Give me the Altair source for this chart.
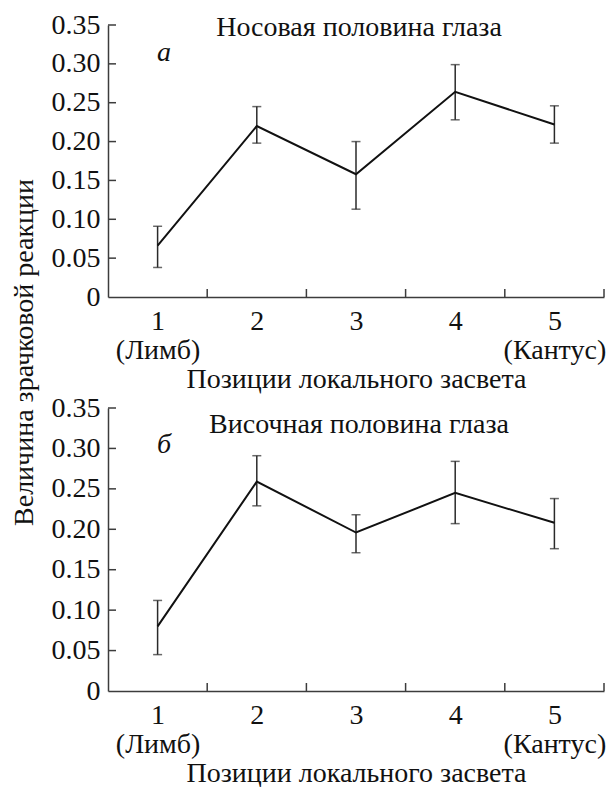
import altair as alt
import pandas as pd

# ---- data ----
positions = [1, 2, 3, 4, 5]

nasal_mean = [0.066, 0.220, 0.158, 0.264, 0.222]
nasal_lo = [0.038, 0.198, 0.113, 0.228, 0.198]
nasal_hi = [0.091, 0.245, 0.200, 0.299, 0.246]

temporal_mean = [0.080, 0.259, 0.196, 0.245, 0.208]
temporal_lo = [0.045, 0.229, 0.171, 0.207, 0.176]
temporal_hi = [0.112, 0.291, 0.218, 0.284, 0.238]

y_ticks = [0, 0.05, 0.10, 0.15, 0.20, 0.25, 0.30, 0.35]
x_band_edges = [1.5, 2.5, 3.5, 4.5, 5.5]

panel_titles = ["Носовая половина глаза", "Височная половина глаза"]
panel_letters = ["а", "б"]
x_title = "Позиции локального засвета"
y_title = "Величина зрачковой реакции"

FONT = "Liberation Serif"
FS = 28
W = 496
INK = "#111111"
AXC = "#3c3c3c"


def panel(mean, lo, hi, title, letter, height, show_ytitle, title_y, letter_y, ytitle_y):
    df = pd.DataFrame({"pos": positions, "mean": mean, "lo": lo, "hi": hi})
    x_enc = alt.X(
        "pos:Q",
        scale=alt.Scale(domain=[0.5, 5.5], nice=False, zero=False),
        axis=alt.Axis(
            values=positions,
            tickSize=0,
            grid=False,
            labelExpr="datum.value == 1 ? ['1', '(Лимб)'] : datum.value == 5 ? ['5', '(Кантус)'] : datum.label",
            labelLineHeight=29,
            labelPadding=10,
            labelFlush=False,
            labelOverlap=False,
            title=x_title,
            titlePadding=1,
        ),
    )
    yaxis_kwargs = dict(
        values=y_ticks,
        tickSize=0,
        grid=False,
        labelExpr="datum.value == 0 ? '0' : format(datum.value, '.2f')",
        labelPadding=8,
        labelOverlap=False,
    )
    if show_ytitle:
        yaxis_kwargs.update(
            title=y_title,
            titleAngle=270,
            titleX=-84,
            titleY=ytitle_y,
            titleBaseline="middle",
            titleAlign="center",
        )
    else:
        yaxis_kwargs.update(title="")
    y_enc = alt.Y(
        "mean:Q",
        scale=alt.Scale(domain=[0, 0.35], nice=False, zero=True),
        axis=alt.Axis(**yaxis_kwargs),
    )

    base = alt.Chart(df)
    line = base.mark_line(color=INK, strokeWidth=2).encode(x=x_enc, y=y_enc)
    err = base.mark_errorbar(
        ticks=alt.MarkConfig(size=9, color="#2a2a2a", strokeWidth=1.5),
        color="#2a2a2a",
        thickness=1.5,
    ).encode(
        x=x_enc,
        y=alt.Y("lo:Q", scale=alt.Scale(domain=[0, 0.35], nice=False), axis=alt.Axis(**yaxis_kwargs)),
        y2="hi:Q",
    )

    ytick_df = pd.DataFrame({"mean": y_ticks[1:]})
    yticks = alt.Chart(ytick_df).mark_rule(color=AXC, strokeWidth=1.5).encode(
        y=y_enc, x=alt.value(0), x2=alt.value(8)
    )
    xtick_df = pd.DataFrame({"pos": x_band_edges})
    xticks = alt.Chart(xtick_df).mark_rule(color=AXC, strokeWidth=1.5).encode(
        x=x_enc, y=alt.value(height), y2=alt.value(height - 8)
    )

    ttl = alt.Chart(pd.DataFrame({"t": [title]})).mark_text(
        font=FONT, fontSize=FS, color=INK, align="center", baseline="middle"
    ).encode(text="t:N", x=alt.value(251), y=alt.value(title_y))
    let = alt.Chart(pd.DataFrame({"t": [letter]})).mark_text(
        font=FONT, fontSize=FS, fontStyle="italic", color=INK, align="center", baseline="middle"
    ).encode(text="t:N", x=alt.value(56), y=alt.value(letter_y))

    return alt.layer(yticks, xticks, err, line, ttl, let).properties(width=W, height=height)


top = panel(nasal_mean, nasal_lo, nasal_hi, panel_titles[0], panel_letters[0], 272, True, 3, 28, 327)
bottom = panel(temporal_mean, temporal_lo, temporal_hi, panel_titles[1], panel_letters[1], 283, False, 17, 37, 0)

chart = (
    alt.vconcat(top, bottom, spacing=111, bounds="flush")
    .properties(padding={"left": 2, "top": 3, "right": 0, "bottom": 0})
    .configure_view(stroke=None)
    .configure_axis(
        domainColor=AXC,
        domainWidth=1.5,
        labelFont=FONT,
        labelFontSize=FS,
        labelColor=INK,
        titleFont=FONT,
        titleFontSize=FS,
        titleFontWeight="normal",
        titleColor=INK,
    )
)

chart.save("out.html", embed_options={"renderer": "svg", "actions": False})
